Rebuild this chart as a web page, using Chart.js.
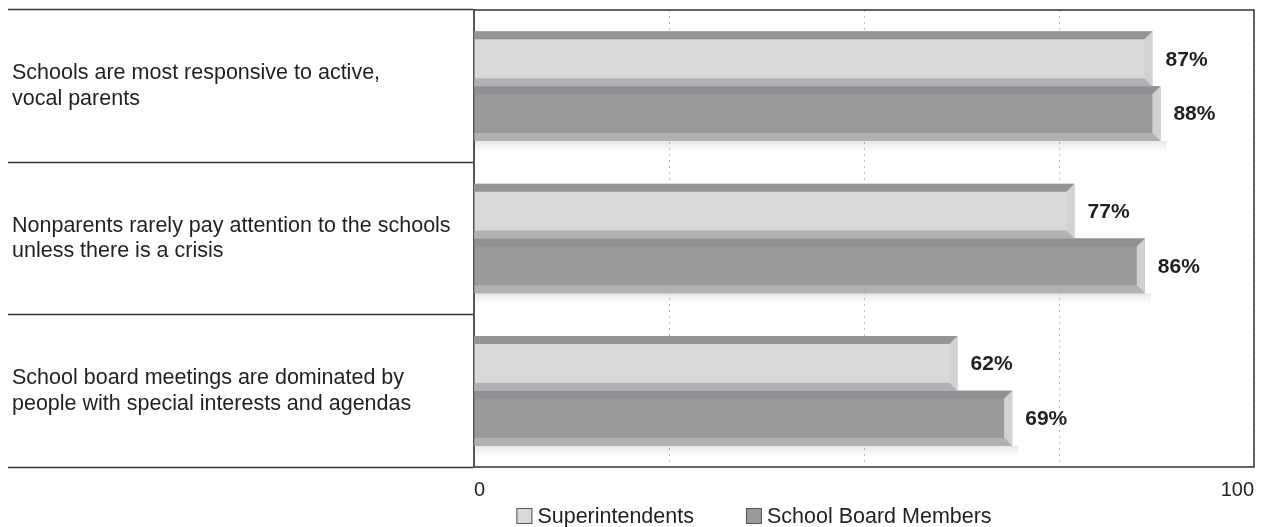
<!DOCTYPE html>
<html>
<head>
<meta charset="utf-8">
<script src="https://cdn.jsdelivr.net/npm/chart.js@4.4.1/dist/chart.umd.min.js"></script>
<style>
  html, body { margin: 0; padding: 0; background: #fff; }
  #wrap { width: 1266px; height: 527px; position: relative; }
</style>
</head>
<body>
<div id="wrap"><canvas id="myChart"></canvas></div>
<script>
// ===========================
// DATA
// ===========================
const categories = [
    ['Schools are most responsive to active,', 'vocal parents'],
    ['Nonparents rarely pay attention to the schools', 'unless there is a crisis'],
    ['School board meetings are dominated by', 'people with special interests and agendas']
];
const seriesNames = ['Superintendents', 'School Board Members'];
const superintendents = [87, 77, 62];
const boardMembers = [88, 86, 69];
const labelledTicks = [0, 100];   // only these x ticks get a label

// ===========================
// STYLE
// ===========================
const FONT = "'Liberation Sans', Arial, sans-serif";
const TEXT = '#231f20';
const faceColors = ['#d9d9d9', '#999999'];
const bevelTop = ['#939497', '#8f9093'];
const bevelBottom = ['#b1b2b5', '#b0b1b4'];
const bevelSide = '#d1d2d4';
const BEVEL = 8;
const LEGEND_CX = 754;
const LEGEND_Y = 516;

function poly(ctx, pts, color) {
    ctx.beginPath();
    ctx.moveTo(pts[0][0], pts[0][1]);
    for (let i = 1; i < pts.length; i++) ctx.lineTo(pts[i][0], pts[i][1]);
    ctx.closePath();
    ctx.fillStyle = color;
    ctx.fill();
}

function barBox(bar) {
    return {
        left: Math.min(bar.base, bar.x),
        right: Math.max(bar.base, bar.x),
        top: bar.y - bar.height / 2,
        bottom: bar.y + bar.height / 2
    };
}

// soft shadow under each pair of bars
const shadowPlugin = {
    id: 'barShadow',
    beforeDatasetsDraw(chart) {
        const ctx = chart.ctx;
        const meta = chart.getDatasetMeta(1);
        ctx.save();
        meta.data.forEach(bar => {
            const r = barBox(bar);
            const g = ctx.createLinearGradient(0, r.bottom, 0, r.bottom + 11);
            g.addColorStop(0, 'rgba(0,0,0,0.09)');
            g.addColorStop(1, 'rgba(0,0,0,0)');
            ctx.fillStyle = g;
            ctx.fillRect(r.left, r.bottom, r.right - r.left + 6, 11);
        });
        ctx.restore();
    }
};

// bevelled edges + value labels
const bevelPlugin = {
    id: 'bevel',
    afterDatasetsDraw(chart) {
        const ctx = chart.ctx;
        ctx.save();
        chart.data.datasets.forEach((ds, di) => {
            chart.getDatasetMeta(di).data.forEach((bar, i) => {
                const r = barBox(bar);
                const b = BEVEL;
                poly(ctx, [[r.left, r.top], [r.right, r.top], [r.right - b, r.top + b], [r.left, r.top + b]], bevelTop[di]);
                poly(ctx, [[r.left, r.bottom], [r.right, r.bottom], [r.right - b, r.bottom - b], [r.left, r.bottom - b]], bevelBottom[di]);
                poly(ctx, [[r.right, r.top], [r.right, r.bottom], [r.right - b, r.bottom - b], [r.right - b, r.top + b]], bevelSide);

                ctx.font = `bold 21px ${FONT}`;
                ctx.fillStyle = TEXT;
                ctx.textAlign = 'left';
                ctx.textBaseline = 'middle';
                ctx.fillText(ds.data[i] + '%', r.right + 13, bar.y + 1);
            });
        });
        ctx.restore();
    }
};

// frame round the plot area (top, right, bottom)
const framePlugin = {
    id: 'frame',
    afterDraw(chart) {
        const { ctx, chartArea: a } = chart;
        ctx.save();
        ctx.strokeStyle = '#333';
        ctx.lineWidth = 1.5;
        ctx.beginPath();
        ctx.moveTo(a.left, a.top);
        ctx.lineTo(a.right, a.top);
        ctx.lineTo(a.right, a.bottom);
        ctx.lineTo(a.left, a.bottom);
        ctx.stroke();
        ctx.restore();
    }
};

// legend drawn by hand so it can sit where the original has it
const legendPlugin = {
    id: 'bottomLegend',
    afterDraw(chart) {
        const ctx = chart.ctx;
        const box = 16, gapText = 5, gapItem = 52;
        ctx.save();
        ctx.font = `21.5px ${FONT}`;
        const names = chart.data.datasets.map(d => d.label);
        const widths = names.map(n => box + gapText + ctx.measureText(n).width);
        const total = widths.reduce((s, w) => s + w, 0) + gapItem * (names.length - 1);
        let x = LEGEND_CX - total / 2;
        names.forEach((n, i) => {
            ctx.fillStyle = faceColors[i];
            ctx.fillRect(x, LEGEND_Y - box / 2, box, box);
            ctx.strokeStyle = '#555';
            ctx.lineWidth = 1;
            ctx.strokeRect(x + 0.5, LEGEND_Y - box / 2 + 0.5, box - 1, box - 1);
            ctx.fillStyle = TEXT;
            ctx.textAlign = 'left';
            ctx.textBaseline = 'middle';
            ctx.fillText(n, x + box + gapText, LEGEND_Y + 1);
            x += widths[i] + gapItem;
        });
        ctx.restore();
    }
};

// ===========================
// CHART
// ===========================
const ctx = document.getElementById('myChart').getContext('2d');

new Chart(ctx, {
    type: 'bar',
    data: {
        labels: categories,
        datasets: [
            { label: seriesNames[0], data: superintendents, backgroundColor: faceColors[0] },
            { label: seriesNames[1], data: boardMembers, backgroundColor: faceColors[1] }
        ]
    },
    options: {
        indexAxis: 'y',
        responsive: true,
        maintainAspectRatio: false,
        animation: false,
        datasets: {
            bar: { categoryPercentage: 0.72, barPercentage: 1.0, borderWidth: 0 }
        },
        layout: { padding: { left: 12, right: 12, top: 10, bottom: 14 } },
        plugins: {
            legend: { display: false },
            tooltip: { enabled: false }
        },
        scales: {
            x: {
                min: 0,
                max: 100,
                grid: { color: '#bdbdbd', lineWidth: 1, drawTicks: false },
                border: { display: false, dash: [2, 4] },
                ticks: {
                    stepSize: 25,
                    align: 'inner',
                    padding: 11,
                    maxRotation: 0,
                    color: TEXT,
                    font: { family: FONT, size: 20, lineHeight: 1.2 },
                    callback: v => labelledTicks.includes(v) ? String(v) : ''
                },
                afterFit(scale) { scale.paddingLeft = 0; scale.paddingRight = 0; }
            },
            y: {
                grid: {
                    offset: true,
                    drawOnChartArea: false,
                    drawTicks: true,
                    tickLength: 466,
                    tickColor: '#333',
                    tickWidth: 1.5
                },
                border: { display: true, color: '#555', width: 2 },
                ticks: {
                    crossAlign: 'far',
                    padding: 0,
                    color: TEXT,
                    font: { family: FONT, size: 21.5, lineHeight: 1.2 }
                },
                afterFit(scale) {
                    scale.width = 462;
                    scale.paddingTop = 0;
                    scale.paddingBottom = 0;
                }
            }
        }
    },
    plugins: [shadowPlugin, bevelPlugin, framePlugin, legendPlugin]
});
</script>
</body>
</html>
